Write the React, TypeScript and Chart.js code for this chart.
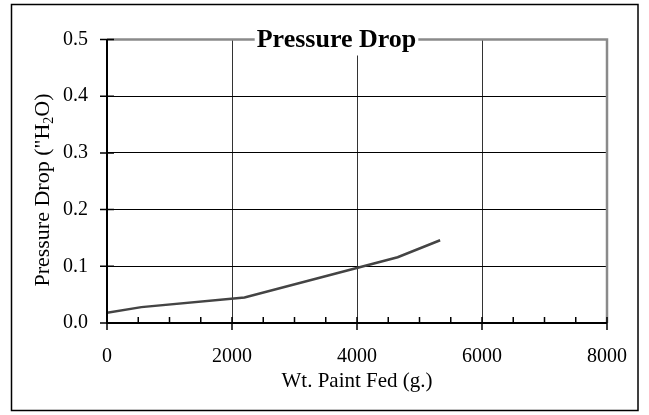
import React, { useEffect, useRef } from 'react';
import { Chart, registerables } from 'chart.js';

Chart.register(...registerables);

const weightFed = [0, 550, 2200, 4650, 5330];
const pressureDrop = [0.018, 0.028, 0.045, 0.116, 0.146];
const xTickValues = [0, 2000, 4000, 6000, 8000];
const xMinorStep = 500;
const yTickValues = [0, 0.1, 0.2, 0.3, 0.4, 0.5];
const chartTitle = 'Pressure Drop';
const xTitle = 'Wt. Paint Fed (g.)';
const yTitleMain = 'Pressure Drop ("H';
const yTitleSub = '2';
const yTitleEnd = 'O)';

const SERIF = '"Liberation Serif", "Times New Roman", serif';

const decorPlugin = {
  id: 'decor',
  beforeDraw(chart: any) {
    const ctx = chart.ctx;
    ctx.save();
    ctx.fillStyle = '#ffffff';
    ctx.fillRect(0, 0, chart.width, chart.height);
    ctx.strokeStyle = '#000000';
    ctx.lineWidth = 1.5;
    ctx.strokeRect(11.5, 4.5, 626.5, 406);
    ctx.restore();
  },
  afterDraw(chart: any) {
    const ctx = chart.ctx;
    const { left, right, top, bottom } = chart.chartArea;
    const xs = chart.scales.x;
    const ys = chart.scales.y;
    ctx.save();
    // gray top/right border
    ctx.strokeStyle = '#8a8a8a';
    ctx.lineWidth = 2.5;
    ctx.beginPath();
    ctx.moveTo(left, top);
    ctx.lineTo(right, top);
    ctx.lineTo(right, bottom);
    ctx.stroke();
    // left & bottom axes
    ctx.strokeStyle = '#000000';
    ctx.lineWidth = 2;
    ctx.beginPath();
    ctx.moveTo(left, top);
    ctx.lineTo(left, bottom);
    ctx.lineTo(right, bottom);
    ctx.stroke();
    // ticks
    ctx.lineWidth = 1.5;
    ctx.beginPath();
    for (let v = xs.min; v <= xs.max; v += xMinorStep) {
      const px = xs.getPixelForValue(v);
      if (xTickValues.includes(v)) {
        ctx.moveTo(px, bottom - 6);
        ctx.lineTo(px, bottom + 7);
      } else {
        ctx.moveTo(px, bottom - 6);
        ctx.lineTo(px, bottom);
      }
    }
    yTickValues.forEach((v) => {
      const py = ys.getPixelForValue(v);
      ctx.moveTo(left - 7, py);
      ctx.lineTo(left + 7, py);
    });
    ctx.stroke();
    // title with white box
    ctx.font = 'bold 26px ' + SERIF;
    const tw = ctx.measureText(chartTitle).width;
    const tcx = 336.5;
    const tcy = top + 1;
    ctx.fillStyle = '#ffffff';
    ctx.fillRect(tcx - tw / 2 - 2, tcy - 14, tw + 4, 29);
    ctx.fillStyle = '#000000';
    ctx.textAlign = 'center';
    ctx.textBaseline = 'middle';
    ctx.fillText(chartTitle, tcx, tcy);
    // y title with subscript
    ctx.translate(42, 190);
    ctx.rotate(-Math.PI / 2);
    const mainFont = '22px ' + SERIF;
    const subFont = '14px ' + SERIF;
    ctx.font = mainFont;
    const w1 = ctx.measureText(yTitleMain).width;
    const w3 = ctx.measureText(yTitleEnd).width;
    ctx.font = subFont;
    const w2 = ctx.measureText(yTitleSub).width;
    let x0 = -(w1 + w2 + w3) / 2;
    ctx.textAlign = 'left';
    ctx.textBaseline = 'alphabetic';
    ctx.font = mainFont;
    ctx.fillText(yTitleMain, x0, 7);
    x0 += w1;
    ctx.font = subFont;
    ctx.fillText(yTitleSub, x0, 11);
    x0 += w2;
    ctx.font = mainFont;
    ctx.fillText(yTitleEnd, x0, 7);
    ctx.restore();
  },
};

export default function App() {
  const canvasRef = useRef<HTMLCanvasElement | null>(null);

  useEffect(() => {
    document.body.style.margin = '0';
    const canvas = canvasRef.current;
    if (!canvas) return;
    const points = weightFed.map((x, i) => ({ x, y: pressureDrop[i] }));
    const chart = new Chart(canvas, {
      type: 'scatter',
      data: {
        datasets: [
          {
            data: points,
            showLine: true,
            borderColor: '#444444',
            borderWidth: 2.5,
            pointRadius: 0,
            tension: 0,
            fill: false,
          },
        ],
      },
      options: {
        responsive: false,
        animation: false,
        devicePixelRatio: 1,
        layout: { padding: { top: 39.5, right: 39, left: 0, bottom: 0 } },
        plugins: {
          legend: { display: false },
          title: { display: false },
          tooltip: { enabled: false },
        },
        scales: {
          x: {
            type: 'linear',
            min: 0,
            max: 8000,
            afterBuildTicks: (scale: any) => {
              scale.ticks = xTickValues.map((v) => ({ value: v }));
            },
            afterFit: (scale: any) => {
              scale.height = 92;
            },
            ticks: {
              color: '#000000',
              font: { family: SERIF, size: 20 },
              padding: 22,
              maxRotation: 0,
              callback: (v: any) => String(v),
            },
            grid: { color: '#333333', lineWidth: 1, drawTicks: false },
            border: { display: false },
            title: {
              display: true,
              text: xTitle,
              color: '#000000',
              font: { family: SERIF, size: 21 },
              padding: { top: 0, bottom: 21 },
            },
          },
          y: {
            type: 'linear',
            min: 0,
            max: 0.5,
            afterBuildTicks: (scale: any) => {
              scale.ticks = yTickValues.map((v) => ({ value: v }));
            },
            afterFit: (scale: any) => {
              scale.width = 107;
            },
            ticks: {
              color: '#000000',
              font: { family: SERIF, size: 20 },
              padding: 19,
              callback: (v: any) => Number(v).toFixed(1),
            },
            grid: { color: '#000000', lineWidth: 1, drawTicks: false },
            border: { display: false },
          },
        },
      },
      plugins: [decorPlugin],
    });
    return () => chart.destroy();
  }, []);

  return (
    <div style={{ width: 649, height: 415 }}>
      <canvas ref={canvasRef} width={649} height={415} />
    </div>
  );
}
